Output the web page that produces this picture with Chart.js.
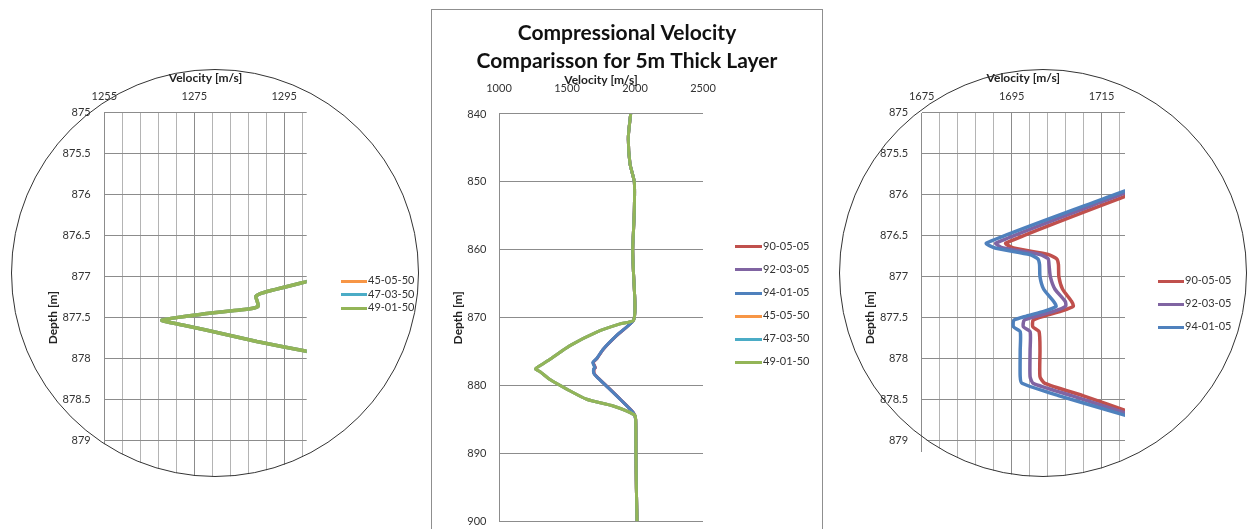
<!DOCTYPE html>
<html>
<head>
<meta charset="utf-8">
<title>Compressional Velocity Comparisson</title>
<script src="https://cdn.jsdelivr.net/npm/chart.js@4.4.1/dist/chart.umd.min.js"></script>
<style>
  body { margin: 0; background: #fff; width: 1247px; height: 529px; overflow: hidden; position: relative; }
  .wrap { position: absolute; top: 0; }
  .ring { position: absolute; border: 1px solid #333; border-radius: 50%; box-sizing: border-box; pointer-events: none; }
  .frame { position: absolute; border: 1px solid #8f8f8f; box-sizing: border-box; }
  .legend { position: absolute; left: 0; top: 0; font: 11px Lato, sans-serif; color: #333; }
  .legend .item { position: absolute; height: 14px; line-height: 14px; white-space: nowrap; }
  .legend .sw { display: inline-block; vertical-align: middle; height: 3px; margin-right: 1px; }
  /* plot cut by the magnifier circle, axis text left whole */
  #leftWrap { left: 0; clip-path: path('M 11 273 A 204 204 0 1 1 419 273 A 204 204 0 1 1 11 273 Z M 60 68 H 330 V 108 H 60 Z M 40 100 H 104 V 452 H 40 Z'); }
  #rightWrap { left: 840px; clip-path: path('M -1 273 A 204 204 0 1 1 407 273 A 204 204 0 1 1 -1 273 Z M 50 68 H 300 V 108 H 50 Z M 20 100 H 82 V 452 H 20 Z'); }
</style>
</head>
<body>
<div class="frame" style="left:431px; top:9px; width:392px; height:600px;"></div>
<div class="wrap" style="left:432px; top:10px;"><canvas id="centreChart" width="390" height="600"></canvas></div>

<div class="wrap" id="leftWrap"><canvas id="leftChart" width="430" height="560"></canvas></div>
<div class="ring" style="left:11px; top:69px; width:408px; height:408px;"></div>

<div class="wrap" id="rightWrap"><canvas id="rightChart" width="407" height="560"></canvas></div>
<div class="ring" style="left:839px; top:69px; width:408px; height:408px;"></div>

<div class="legend" id="leftLegend"></div>
<div class="legend" id="centreLegend"></div>
<div class="legend" id="rightLegend"></div>

<script>
// ---- data ----
const thinCases = ['90-05-05', '92-03-05', '94-01-05'];
const thickCases = ['45-05-50', '47-03-50', '49-01-50'];

// centre chart, whole profile 840-900 m
const depthThin = [840, 843.4, 847.3, 850, 854.2, 857.6, 860, 863, 868.3, 870.4, 872.6, 874.6, 876.0, 876.6, 877.35, 877.53, 878.2, 878.7, 880.1, 882.0, 884.0, 885, 890, 895, 900];
const vel9005 = [1968, 1951, 1963, 1995, 1995, 1988, 1983, 1988, 2000, 1988, 1867, 1769, 1721, 1694, 1709, 1700, 1701, 1721, 1794, 1892, 1990, 2005, 2007, 2010, 2015];
const vel9203 = [1968, 1951, 1963, 1995, 1995, 1988, 1983, 1988, 2000, 1988, 1866, 1768, 1719, 1691.5, 1707, 1698, 1699, 1720, 1793, 1891, 1989, 2005, 2007, 2010, 2015];
const vel9401 = [1968, 1951, 1963, 1995, 1995, 1988, 1983, 1988, 2000, 1988, 1865, 1767, 1718, 1689, 1705, 1695.5, 1697, 1719, 1792, 1890, 1988, 2005, 2007, 2010, 2015];

const depthThick = [840, 843.4, 847.3, 850, 854.2, 857.6, 860, 863, 868.3, 870.4, 870.9, 872.1, 874.1, 876.1, 877.06, 877.53, 877.91, 879.1, 880.5, 882.0, 883.0, 884.3, 885, 890, 895, 900];
// the three 50 cases lie on top of each other
const velThick = [1968, 1951, 1963, 1995, 1995, 1988, 1983, 1988, 2000, 1988, 1890, 1718, 1522, 1375, 1300, 1268, 1300, 1375, 1498, 1645, 1840, 1995, 2005, 2007, 2010, 2015];

// left zoom (thick layer cases)
const zoomDepthThick = [876.7, 877.06, 877.20, 877.24, 877.30, 877.36, 877.39, 877.45, 877.53, 877.59, 877.65, 877.79, 877.91, 878.3];
const zoomVelThick = [1326.6, 1300, 1290.0, 1288.7, 1289.0, 1289.2, 1287.4, 1277.8, 1267.8, 1272.4, 1277.6, 1288.9, 1300, 1336];

// right zoom (thin layer cases)
const zoomDepthThin = [875.6, 876.0, 876.59, 876.65, 876.73, 876.78, 876.85, 877.0, 877.15, 877.3, 877.36, 877.42, 877.48, 877.53, 877.61, 877.67, 877.9, 878.22, 878.3, 878.45, 878.66, 879.0];
const zoomVel9005 = [1739.9, 1721.1, 1693.7, 1695.4, 1703.1, 1705.0, 1705.4, 1705.5, 1706.3, 1708.3, 1708.7, 1706.0, 1702.3, 1699.8, 1699.7, 1701.1, 1701.3, 1701.3, 1702.4, 1710.8, 1721.8, 1739.5];
const zoomVel9203 = [1738.2, 1719.2, 1691.5, 1693.1, 1701.3, 1703.1, 1703.3, 1703.6, 1704.6, 1706.9, 1707.0, 1704.5, 1700.6, 1697.8, 1697.6, 1699.1, 1699.1, 1699.1, 1699.8, 1708.3, 1720.2, 1739.5];
const zoomVel9401 = [1737.3, 1717.9, 1689.4, 1691.3, 1699.0, 1700.8, 1701.2, 1701.3, 1702.1, 1704.3, 1704.9, 1702.3, 1698.3, 1695.5, 1695.4, 1696.9, 1696.9, 1696.9, 1697.3, 1705.4, 1718.4, 1739.3];

// ticks
const centreVelTicks = [1000, 1500, 2000, 2500];
const centreDepthTicks = [840, 850, 860, 870, 880, 890, 900];
const zoomDepthTicks = [875, 875.5, 876, 876.5, 877, 877.5, 878, 878.5, 879, 879.5, 880];
const leftGridVel = [1255, 1259, 1263, 1267, 1271, 1275, 1279, 1283, 1287, 1291, 1295, 1299];
const leftLabelVel = [1255, 1275, 1295];
const rightGridVel = [1675, 1679, 1683, 1687, 1691, 1695, 1699, 1703, 1707, 1711, 1715, 1719];
const rightLabelVel = [1675, 1695, 1715];

// ---- style ----
const thinColors = ['#c0504d', '#8064a2', '#4f81bd'];
const thickColors = ['#f79646', '#4bacc6', '#93b557'];
const gridColor = '#8c8c8c';
const minorGridColor = '#b4b4b4';
const axisTitleFont = { size: 12, weight: 'bold' };

Chart.defaults.font.family = 'Lato, "Liberation Sans", sans-serif';
Chart.defaults.font.size = 11;
Chart.defaults.color = '#333333';

function points(depths, vels) {
  return depths.map((d, i) => ({ x: vels[i], y: d }));
}

function series(names, colors, depths, velLists, width) {
  return names.map((name, i) => ({
    label: name,
    data: points(depths, velLists[i]),
    borderColor: colors[i],
    backgroundColor: colors[i],
    borderWidth: width,
    pointRadius: 0,
    showLine: true,
    tension: 0.2
  }));
}

// later series drawn on top, like the original
function stack(list) {
  list.forEach((ds, i) => { ds.order = list.length - i; });
  return list;
}

function setTicks(list) {
  return (axis) => { axis.ticks = list.map(v => ({ value: v })); };
}

function htmlLegend(chart, id, x, y0, gap, lineW) {
  const el = document.getElementById(id);
  chart.data.datasets.forEach((ds, i) => {
    const row = document.createElement('div');
    row.className = 'item';
    row.style.left = x + 'px';
    row.style.top = (y0 + i * gap - 7) + 'px';
    row.innerHTML = '<span class="sw" style="width:' + lineW + 'px;background:' + ds.borderColor + '"></span><span>' + ds.label + '</span>';
    el.appendChild(row);
  });
}

function zoomScales(xMin, xMax, gridVel, labelVel, yWidth, yTitlePad) {
  return {
    x: {
      type: 'linear', position: 'top', min: xMin, max: xMax,
      afterBuildTicks: setTicks(gridVel),
      afterFit: (a) => { a.height = 112.7; },
      grid: {
        drawTicks: false,
        color: (c) => (c.tick && labelVel.includes(c.tick.value)) ? gridColor : minorGridColor
      },
      border: { display: false },
      ticks: { autoSkip: false, maxRotation: 0, padding: 9.4, callback: (v) => labelVel.includes(v) ? String(v) : '' },
      title: { display: true, text: 'Velocity [m/s]', color: '#222', font: axisTitleFont, padding: { top: 70.8, bottom: 0 } }
    },
    y: {
      type: 'linear', position: 'left', reverse: true, min: 875, max: 880,
      afterBuildTicks: setTicks(zoomDepthTicks),
      afterFit: (a) => { a.width = yWidth; },
      grid: { color: gridColor, drawTicks: false },
      border: { display: false },
      ticks: { autoSkip: false, padding: 13.6, callback: (v) => String(v) },
      title: { display: true, text: 'Depth [m]', color: '#222', font: axisTitleFont, padding: { top: yTitlePad, bottom: 0 } }
    }
  };
}

// centre chart
const centreChart = new Chart(document.getElementById('centreChart'), {
  type: 'scatter',
  data: {
    datasets: stack(series(thinCases, thinColors, depthThin, [vel9005, vel9203, vel9401], 3)
      .concat(series(thickCases, thickColors, depthThick, [velThick, velThick, velThick], 3)))
  },
  options: {
    responsive: false, animation: false, events: [],
    layout: { padding: { left: 0, right: 0, top: 0, bottom: 88.5 } },
    plugins: {
      legend: { display: false },
      tooltip: { enabled: false },
      title: {
        display: true,
        text: ['Compressional Velocity', 'Comparisson for 5m Thick Layer'],
        color: '#111',
        font: { size: 21, weight: 'bold', lineHeight: 1.319 },
        padding: { top: 9.45, bottom: 0 }
      }
    },
    scales: {
      x: {
        type: 'linear', position: 'top', min: 1000, max: 2500,
        afterBuildTicks: setTicks(centreVelTicks),
        afterFit: (a) => { a.height = 39.15; },
        grid: { display: false },
        border: { display: false },
        ticks: { autoSkip: false, maxRotation: 0, padding: 10.7, callback: (v) => String(v) },
        title: { display: true, text: 'Velocity [m/s]', color: '#222', font: axisTitleFont, padding: { top: -2.05, bottom: 0 } }
      },
      y: {
        type: 'linear', position: 'left', reverse: true, min: 840, max: 900,
        afterBuildTicks: setTicks(centreDepthTicks),
        afterFit: (a) => { a.width = 67; },
        grid: { color: gridColor, drawTicks: false },
        border: { display: true, color: gridColor },
        ticks: { autoSkip: false, padding: 12.5, callback: (v) => String(v) },
        title: { display: true, text: 'Depth [m]', color: '#222', font: axisTitleFont, padding: { top: 18.8, bottom: 0 } }
      },
      // empty strip on the right where the legend sits
      legendStrip: {
        type: 'linear', position: 'right',
        afterFit: (a) => { a.width = 119; },
        grid: { display: false },
        border: { display: false },
        ticks: { display: false }
      }
    }
  }
});

// left zoom
const leftChart = new Chart(document.getElementById('leftChart'), {
  type: 'scatter',
  data: { datasets: stack(series(thickCases, thickColors, zoomDepthThick, [zoomVelThick, zoomVelThick, zoomVelThick], 3.5)) },
  options: {
    responsive: false, animation: false, events: [],
    layout: { padding: { left: 0, right: 123.3, top: 0, bottom: 37.3 } },
    plugins: { legend: { display: false }, tooltip: { enabled: false } },
    scales: zoomScales(1255, 1300, leftGridVel, leftLabelVel, 104.3, 46.1)
  }
});

// right zoom
const rightChart = new Chart(document.getElementById('rightChart'), {
  type: 'scatter',
  data: { datasets: stack(series(thinCases, thinColors, zoomDepthThin, [zoomVel9005, zoomVel9203, zoomVel9401], 3.5)) },
  options: {
    responsive: false, animation: false, events: [],
    layout: { padding: { left: 0, right: 122, top: 0, bottom: 37.3 } },
    plugins: { legend: { display: false }, tooltip: { enabled: false } },
    scales: zoomScales(1675, 1720.2, rightGridVel, rightLabelVel, 81.7, 22.8)
  }
});

htmlLegend(leftChart, 'leftLegend', 341, 280, 13.7, 26);
htmlLegend(centreChart, 'centreLegend', 735, 245.7, 23.06, 27);
htmlLegend(rightChart, 'rightLegend', 1158, 280, 23, 26);
</script>
</body>
</html>
